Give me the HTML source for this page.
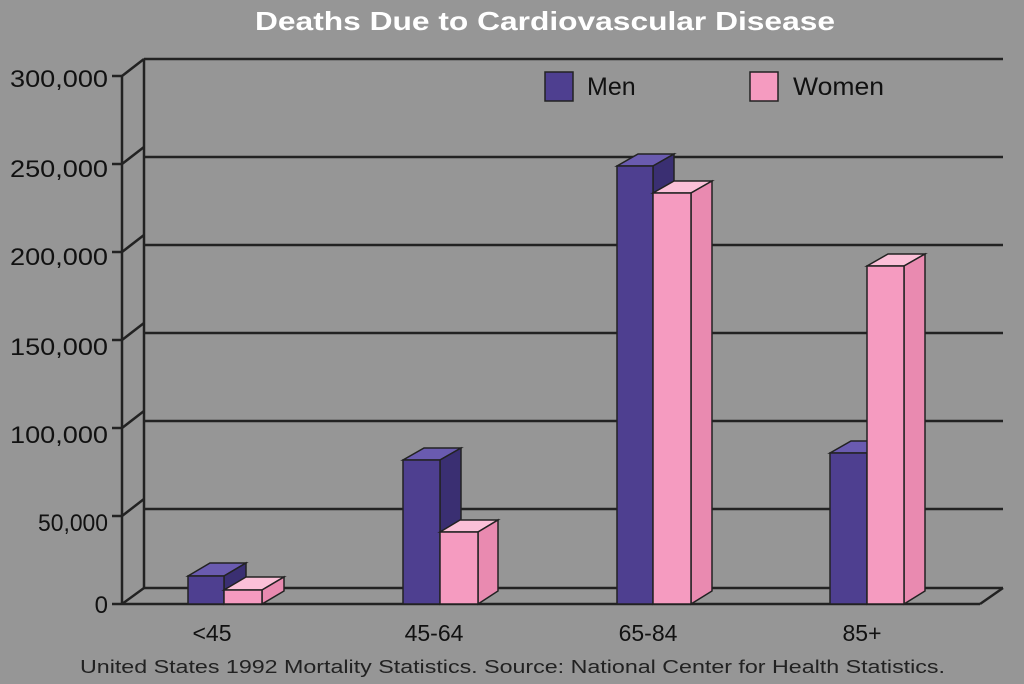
<!DOCTYPE html>
<html><head><style>
body{margin:0;background:#969696;}
svg{display:block;font-family:"Liberation Sans",sans-serif;}
</style></head><body>
<svg width="1024" height="684" viewBox="0 0 1024 684">
<rect width="1024" height="684" fill="#969696"/>
<text x="255" y="30" font-size="26" font-weight="bold" fill="#fff" textLength="580" lengthAdjust="spacingAndGlyphs">Deaths Due to Cardiovascular Disease</text>
<g stroke="#222" stroke-width="2.5" fill="none">
<line x1="144" y1="59" x2="144" y2="588"/>
<line x1="122" y1="76" x2="122" y2="604"/>
<line x1="122" y1="604" x2="980" y2="604"/>
<line x1="980" y1="604" x2="1003" y2="588"/>
<line x1="144" y1="59" x2="1003" y2="59"/><line x1="122" y1="76" x2="144" y2="59"/><line x1="112" y1="76" x2="122" y2="76"/>
<line x1="144" y1="157" x2="1003" y2="157"/><line x1="122" y1="164" x2="144" y2="147"/><line x1="112" y1="164" x2="122" y2="164"/>
<line x1="144" y1="245" x2="1003" y2="245"/><line x1="122" y1="252" x2="144" y2="235"/><line x1="112" y1="252" x2="122" y2="252"/>
<line x1="144" y1="333" x2="1003" y2="333"/><line x1="122" y1="340" x2="144" y2="323"/><line x1="112" y1="340" x2="122" y2="340"/>
<line x1="144" y1="421" x2="1003" y2="421"/><line x1="122" y1="428" x2="144" y2="411"/><line x1="112" y1="428" x2="122" y2="428"/>
<line x1="144" y1="509" x2="1003" y2="509"/><line x1="122" y1="516" x2="144" y2="499"/><line x1="112" y1="516" x2="122" y2="516"/>
<line x1="144" y1="588" x2="1003" y2="588"/><line x1="122" y1="604" x2="144" y2="588"/><line x1="112" y1="604" x2="122" y2="604"/>
</g>
<g font-size="24" fill="#111" text-anchor="end">
<text x="108" y="87" textLength="98" lengthAdjust="spacingAndGlyphs">300,000</text><text x="108" y="177" textLength="98" lengthAdjust="spacingAndGlyphs">250,000</text><text x="108" y="265" textLength="98" lengthAdjust="spacingAndGlyphs">200,000</text>
<text x="108" y="355" textLength="98" lengthAdjust="spacingAndGlyphs">150,000</text><text x="108" y="443" textLength="98" lengthAdjust="spacingAndGlyphs">100,000</text><text x="108" y="531" textLength="70" lengthAdjust="spacingAndGlyphs">50,000</text><text x="108" y="613">0</text>
</g>
<g stroke="#222" stroke-width="1.5">
<polygon points="188,576 224,576 246,563 210,563" fill="#6a5bb0"/><polygon points="224,576 246,563 246,591 224,604" fill="#3a2f72"/><rect x="188" y="576" width="36" height="28" fill="#4e3f90"/>
<polygon points="224,590 262,590 284,577 246,577" fill="#fbc0d8"/><polygon points="262,590 284,577 284,591 262,604" fill="#e98ab0"/><rect x="224" y="590" width="38" height="14" fill="#f59bc0"/>
<polygon points="403,460 440,460 461,448 424,448" fill="#6a5bb0"/><polygon points="440,460 461,448 461,591 440,604" fill="#3a2f72"/><rect x="403" y="460" width="37" height="144" fill="#4e3f90"/>
<polygon points="440,532 478,532 498,520 460,520" fill="#fbc0d8"/><polygon points="478,532 498,520 498,591 478,604" fill="#e98ab0"/><rect x="440" y="532" width="38" height="72" fill="#f59bc0"/>
<polygon points="617,166 653,166 674,154 638,154" fill="#6a5bb0"/><polygon points="653,166 674,154 674,591 653,604" fill="#3a2f72"/><rect x="617" y="166" width="36" height="438" fill="#4e3f90"/>
<polygon points="653,193 691,193 712,181 674,181" fill="#fbc0d8"/><polygon points="691,193 712,181 712,591 691,604" fill="#e98ab0"/><rect x="653" y="193" width="38" height="411" fill="#f59bc0"/>
<polygon points="830,453 867,453 888,441 851,441" fill="#6a5bb0"/><polygon points="867,453 888,441 888,591 867,604" fill="#3a2f72"/><rect x="830" y="453" width="37" height="151" fill="#4e3f90"/>
<polygon points="867,266 904,266 925,254 888,254" fill="#fbc0d8"/><polygon points="904,266 925,254 925,591 904,604" fill="#e98ab0"/><rect x="867" y="266" width="37" height="338" fill="#f59bc0"/>
<rect x="545" y="72" width="28" height="29" fill="#4e3f90"/>
<rect x="750" y="72" width="28" height="29" fill="#f59bc0"/>
</g>
<text x="587" y="95" font-size="25" fill="#111">Men</text>
<text x="793" y="95" font-size="25" fill="#111" textLength="91" lengthAdjust="spacingAndGlyphs">Women</text>
<g font-size="23" fill="#111" text-anchor="middle">
<text x="212" y="641">&lt;45</text><text x="434" y="641">45-64</text><text x="648" y="641">65-84</text><text x="862" y="641">85+</text>
</g>
<text x="80" y="673" font-size="18" fill="#222" textLength="865" lengthAdjust="spacingAndGlyphs">United States 1992 Mortality Statistics. Source: National Center for Health Statistics.</text>
</svg>
</body></html>
